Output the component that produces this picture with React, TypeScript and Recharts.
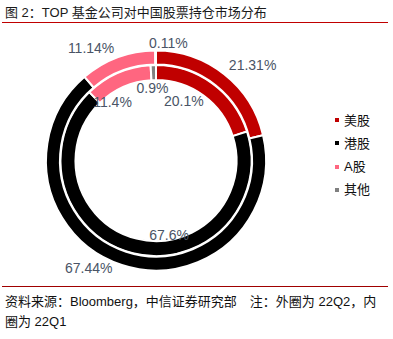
import React from 'react';
import { PieChart, Pie, Cell, Legend } from 'recharts';

const categories = ['美股', '港股', 'A股', '其他'];
const outer22Q2 = [21.31, 67.44, 11.14, 0.11];
const inner22Q1 = [20.1, 67.6, 11.4, 0.9];
const colors = ['#C00000', '#000000', '#FF6680', '#808080'];

const outerData = categories.map((name, i) => ({ name, value: outer22Q2[i] }));
const innerData = categories.map((name, i) => ({ name, value: inner22Q1[i] }));

// label placement tweaks (angle shift from slice middle, radius from centre)
const outerLabelShift = [
  { da: -6.9, r: 136 },
  { da: -13.9, r: 127 },
  { da: 9.5, r: 130 },
  { da: -6.2, r: 118 },
];
const innerLabelShift = [
  { da: 11.2, r: 66 },
  { da: 24, r: 75.6 },
  { da: 12.8, r: 73 },
  { da: 1.2, r: 72.6 },
];

const RAD = Math.PI / 180;
const LABEL_COLOR = '#4a5466';
const FONT = '"Liberation Sans", Arial, "Noto Sans CJK SC", sans-serif';

const makeLabel = (shifts: { da: number; r: number }[]) => (props: any) => {
  const { cx, cy, midAngle, index, value } = props;
  const s = shifts[index];
  const a = (midAngle + s.da) * RAD;
  const x = cx + Math.cos(-a) * s.r;
  const y = cy + Math.sin(-a) * s.r;
  return (
    <text
      x={x}
      y={y}
      fill={LABEL_COLOR}
      textAnchor="middle"
      dominantBaseline="central"
      fontSize={14}
      fontFamily={FONT}
    >
      {`${value}%`}
    </text>
  );
};

const LegendContent = () => (
  <div style={{ fontFamily: FONT, fontSize: 13, color: '#111' }}>
    {categories.map((c, i) => (
      <div
        key={c}
        style={{ display: 'flex', alignItems: 'center', height: 23.3, lineHeight: '23.3px' }}
      >
        <span
          style={{
            display: 'inline-block',
            width: 4,
            height: 4,
            background: colors[i],
            marginRight: 5,
          }}
        />
        <span>{c}</span>
      </div>
    ))}
  </div>
);

export default function App() {
  return (
    <div
      style={{
        position: 'absolute',
        left: 0,
        top: 0,
        width: 393,
        height: 339,
        background: '#fff',
        overflow: 'hidden',
        fontFamily: FONT,
      }}
    >
      <div
        style={{
          position: 'absolute',
          left: 5,
          top: 4,
          fontSize: 13,
          lineHeight: '18px',
          color: '#1a1a1a',
          whiteSpace: 'pre',
        }}
      >
        图 2：TOP 基金公司对中国股票持仓市场分布
      </div>
      <div
        style={{
          position: 'absolute',
          left: 2,
          top: 21.5,
          width: 386,
          height: 1.5,
          background: '#C00000',
        }}
      />
      <div style={{ position: 'absolute', left: 0, top: 0 }}>
        <PieChart width={393} height={339} margin={{ top: 0, right: 0, bottom: 0, left: 0 }}>
          <Pie
            data={innerData}
            dataKey="value"
            nameKey="name"
            cx={156}
            cy={160.5}
            innerRadius={80.5}
            outerRadius={95.5}
            startAngle={90}
            endAngle={-270}
            stroke="#fff"
            strokeWidth={2}
            label={makeLabel(innerLabelShift)}
            labelLine={false}
            isAnimationActive={false}
          >
            {innerData.map((d, i) => (
              <Cell key={d.name} fill={colors[i]} />
            ))}
          </Pie>
          <Pie
            data={outerData}
            dataKey="value"
            nameKey="name"
            cx={156}
            cy={160.5}
            innerRadius={96}
            outerRadius={110}
            startAngle={90}
            endAngle={-270}
            stroke="#fff"
            strokeWidth={2}
            label={makeLabel(outerLabelShift)}
            labelLine={false}
            isAnimationActive={false}
          >
            {outerData.map((d, i) => (
              <Cell key={d.name} fill={colors[i]} />
            ))}
          </Pie>
          <Legend
            content={<LegendContent />}
            wrapperStyle={{ position: 'absolute', left: 335, top: 108.5, width: 60, bottom: 'auto' }}
          />
        </PieChart>
      </div>
      <div
        style={{
          position: 'absolute',
          left: 2,
          top: 286,
          width: 386,
          height: 1,
          background: '#A00000',
        }}
      />
      <div
        style={{
          position: 'absolute',
          left: 5,
          top: 292,
          fontSize: 13,
          lineHeight: '20px',
          color: '#111',
          whiteSpace: 'pre',
        }}
      >
        <div>资料来源：Bloomberg，中信证券研究部　注：外圈为 22Q2，内</div>
        <div>圈为 22Q1</div>
      </div>
    </div>
  );
}
